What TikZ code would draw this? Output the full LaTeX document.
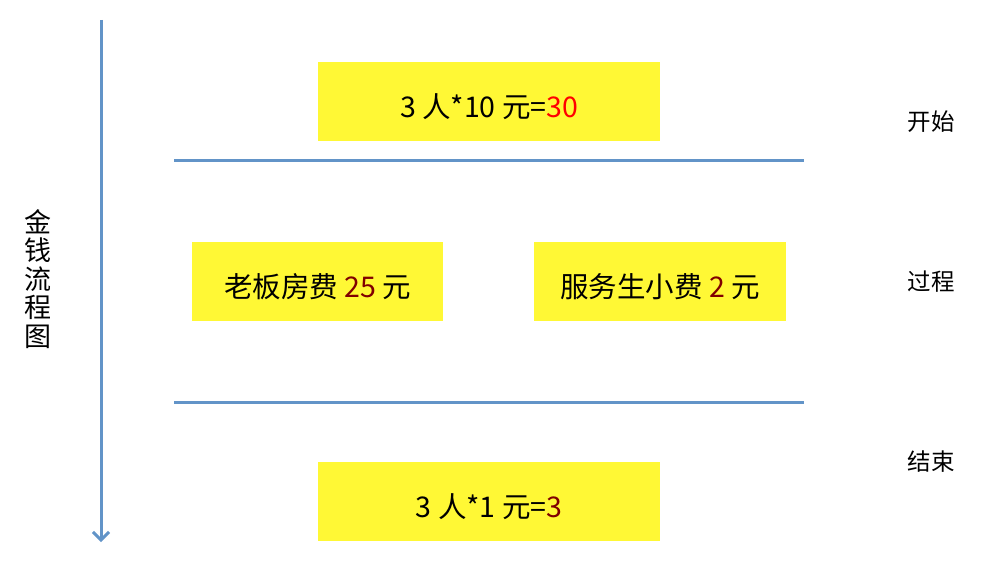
\documentclass[tikz,border=0pt]{standalone}
\usepackage{fontspec}
\setmainfont{Noto Sans CJK SC}
\usetikzlibrary{arrows.meta}
\definecolor{boxyellow}{RGB}{255,248,53}
\definecolor{lineblue}{RGB}{98,148,200}
\definecolor{numred}{RGB}{255,0,0}
\definecolor{numdark}{RGB}{128,0,0}
\tikzset{
  money/.style={fill=boxyellow,minimum height=79pt,font=\fontsize{28.5}{30}\selectfont,inner sep=0pt,text height=32pt,text depth=0pt},
  phase/.style={font=\fontsize{23.5}{27}\selectfont},
  divider/.style={lineblue,line width=3pt}
}
\begin{document}
\begin{tikzpicture}[x=1pt,y=-1pt]
\useasboundingbox (0,0) rectangle (994,572);
\coordinate (top) at (101,20);
\coordinate (bottom) at (101,542);
\draw [lineblue,line width=3pt,-{Straight Barb[length=8pt,width=16pt]}] (top) -- (bottom);
\node (title) at (38,279) [align=center,font=\fontsize{27}{28.5}\selectfont] {金\\钱\\流\\程\\图};
\node[money,minimum width=342pt] (start) at (489,101.5) {3 人*10 元=\textcolor{numred}{30}};
\node[money,minimum width=251pt] (boss) at (317.5,281.5) {老板房费 \textcolor{numdark}{25} 元};
\node[money,minimum width=252pt] (waiter) at (660,281.5) {服务生小费 \textcolor{numdark}{2} 元};
\node[money,minimum width=342pt] (finish) at (489,501.5) {3 人*1 元=\textcolor{numdark}{3}};
\coordinate (l1a) at (174,161);
\coordinate (l1b) at (804,161);
\coordinate (l2a) at (174,402);
\coordinate (l2b) at (804,402);
\draw [divider] (l1a) -- (l1b);
\draw [divider] (l2a) -- (l2b);
\node[phase] (kaishi) at (931,122) {开始};
\node[phase] (guocheng) at (931,282) {过程};
\node[phase] (jieshu) at (931,462) {结束};
\end{tikzpicture}
\end{document}
